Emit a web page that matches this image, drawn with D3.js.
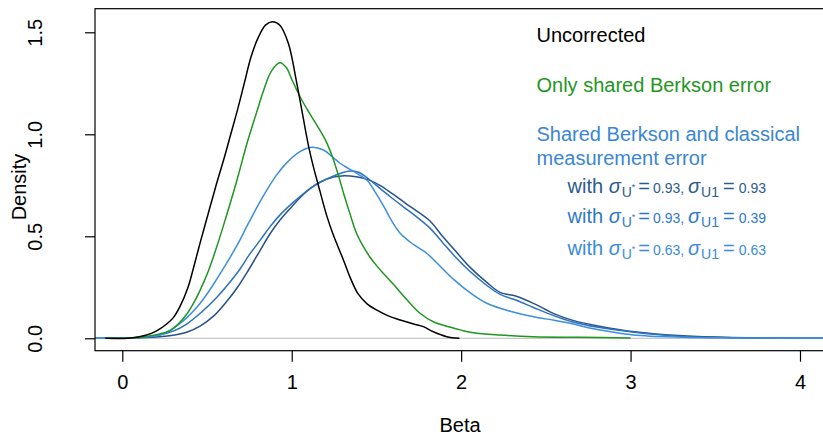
<!DOCTYPE html>
<html>
<head>
<meta charset="utf-8">
<script src="https://cdn.jsdelivr.net/npm/d3@7"></script>
<style>
  body { margin: 0; background: #fff; }
  text { font-family: "Liberation Sans", Arial, Helvetica, sans-serif; }
</style>
</head>
<body>
<div id="chart"></div>
<script>
// density estimates (beta, density)
var uncorrectedX = [-0.1, 0.05, 0.144, 0.2, 0.262, 0.30, 0.34, 0.388, 0.417, 0.46, 0.51, 0.557, 0.6, 0.64, 0.68, 0.72, 0.76, 0.8, 0.845, 0.886, 0.93, 0.98, 1.03, 1.068, 1.1, 1.128, 1.167, 1.207, 1.244, 1.305, 1.344, 1.39, 1.443, 1.5, 1.57, 1.64, 1.72, 1.777, 1.836, 1.915, 1.99];
var uncorrectedY = [0, 0.002, 0.016, 0.035, 0.07, 0.1, 0.155, 0.25, 0.335, 0.47, 0.62, 0.76, 0.88, 1.0, 1.12, 1.25, 1.38, 1.47, 1.535, 1.552, 1.535, 1.446, 1.25, 1.08, 0.94, 0.84, 0.72, 0.6, 0.51, 0.384, 0.30, 0.22, 0.17, 0.139, 0.11, 0.09, 0.07, 0.057, 0.032, 0.008, 0];

var berksonX = [-0.1, 0.1, 0.2, 0.282, 0.33, 0.38, 0.419, 0.459, 0.508, 0.55, 0.596, 0.675, 0.734, 0.79, 0.832, 0.88, 0.931, 0.97, 1.0, 1.049, 1.1, 1.148, 1.2, 1.24, 1.275, 1.31, 1.344, 1.38, 1.423, 1.46, 1.502, 1.55, 1.6, 1.679, 1.757, 1.836, 1.934, 2.0, 2.072, 2.23, 2.426, 2.7, 3.0];
var berksonY = [0, 0.004, 0.018, 0.038, 0.07, 0.118, 0.17, 0.235, 0.33, 0.43, 0.55, 0.77, 0.95, 1.1, 1.21, 1.31, 1.351, 1.325, 1.27, 1.184, 1.11, 1.045, 0.97, 0.89, 0.8, 0.7, 0.61, 0.52, 0.449, 0.40, 0.355, 0.31, 0.265, 0.19, 0.123, 0.081, 0.055, 0.04, 0.027, 0.016, 0.008, 0.005, 0.002];

// sigma U* = 0.63, sigma U1 = 0.63
var lightX = [-0.16, 0.0, 0.1, 0.223, 0.262, 0.32, 0.38, 0.44, 0.498, 0.55, 0.616, 0.68, 0.734, 0.8, 0.852, 0.91, 0.97, 1.049, 1.118, 1.187, 1.24, 1.285, 1.334, 1.40, 1.45, 1.49, 1.541, 1.58, 1.64, 1.718, 1.797, 1.856, 1.954, 2.05, 2.151, 2.3, 2.426, 2.55, 2.662, 2.75, 2.82, 3.017, 3.31, 3.6, 4.19];
var lightY = [0, 0.001, 0.004, 0.016, 0.03, 0.06, 0.1, 0.152, 0.215, 0.28, 0.368, 0.46, 0.547, 0.65, 0.725, 0.80, 0.86, 0.915, 0.936, 0.923, 0.89, 0.858, 0.833, 0.80, 0.77, 0.72, 0.65, 0.59, 0.515, 0.46, 0.417, 0.37, 0.29, 0.225, 0.172, 0.13, 0.106, 0.088, 0.07, 0.052, 0.041, 0.016, 0.005, 0.002, 0];

// sigma U* = 0.93, sigma U1 = 0.39
var midX = [-0.16, 0.1, 0.2, 0.3, 0.38, 0.47, 0.557, 0.62, 0.695, 0.75, 0.813, 0.87, 0.931, 1.0, 1.049, 1.11, 1.167, 1.23, 1.285, 1.344, 1.39, 1.44, 1.521, 1.58, 1.65, 1.73, 1.816, 1.89, 1.954, 2.05, 2.15, 2.23, 2.33, 2.43, 2.55, 2.66, 2.8, 3.02, 3.31, 3.6, 4.19];
var midY = [0, 0.003, 0.012, 0.035, 0.07, 0.13, 0.2, 0.26, 0.34, 0.41, 0.48, 0.545, 0.605, 0.66, 0.695, 0.735, 0.765, 0.79, 0.808, 0.82, 0.815, 0.79, 0.735, 0.695, 0.65, 0.6, 0.54, 0.47, 0.41, 0.33, 0.26, 0.215, 0.185, 0.15, 0.11, 0.08, 0.055, 0.03, 0.009, 0.003, 0];

// sigma U* = 0.93, sigma U1 = 0.93
var navyX = [-0.16, 0.2, 0.3, 0.38, 0.459, 0.54, 0.616, 0.68, 0.734, 0.813, 0.87, 0.931, 1.0, 1.05, 1.11, 1.167, 1.246, 1.31, 1.38, 1.45, 1.521, 1.6, 1.7, 1.816, 1.89, 1.954, 2.05, 2.15, 2.23, 2.33, 2.43, 2.55, 2.66, 2.8, 3.02, 3.31, 3.6, 4.19];
var navyY = [0, 0.006, 0.015, 0.03, 0.06, 0.11, 0.18, 0.25, 0.32, 0.43, 0.51, 0.58, 0.645, 0.69, 0.735, 0.765, 0.79, 0.797, 0.792, 0.778, 0.75, 0.705, 0.645, 0.575, 0.5, 0.44, 0.35, 0.275, 0.225, 0.205, 0.17, 0.12, 0.088, 0.062, 0.032, 0.012, 0.004, 0];

var xTicks = [0, 1, 2, 3, 4];
var yTicks = [0, 0.5, 1, 1.5];
var yTickLabels = ["0.0", "0.5", "1.0", "1.5"];

var W = 823, H = 435;
var box = { left: 95, top: 8.7, right: 832, bottom: 350.7 };

var svg = d3.select('#chart').append('svg')
    .attr('width', W)
    .attr('height', H);

var x = d3.scaleLinear().domain([0, 4]).range([122.3, 800]);
var y = d3.scaleLinear().domain([0, 1.5]).range([338.3, 32.3]);

svg.append('clipPath').attr('id', 'plotclip')
    .append('rect')
    .attr('x', box.left).attr('y', box.top)
    .attr('width', box.right - box.left).attr('height', box.bottom - box.top);

var plot = svg.append('g').attr('clip-path', 'url(#plotclip)');

// zero line
plot.append('line')
    .attr('x1', box.left).attr('x2', box.right)
    .attr('y1', y(0)).attr('y2', y(0))
    .attr('stroke', '#c8c8c8')
    .attr('stroke-width', 1.2);

var line = d3.line()
    .x(function (d) { return x(d[0]); })
    .y(function (d) { return y(Math.max(0, d[1])); })
    .curve(d3.curveCatmullRom.alpha(0.5));

var series = [
    { xs: navyX, ys: navyY, color: '#25538a' },
    { xs: midX, ys: midY, color: '#2d72bd' },
    { xs: lightX, ys: lightY, color: '#3d8fdc' },
    { xs: berksonX, ys: berksonY, color: '#1f961f' },
    { xs: uncorrectedX, ys: uncorrectedY, color: '#000000' }
];

series.forEach(function (s) {
    plot.append('path')
        .datum(d3.zip(s.xs, s.ys))
        .attr('fill', 'none')
        .attr('stroke', s.color)
        .attr('stroke-width', 1.5)
        .attr('stroke-linejoin', 'round')
        .attr('d', line);
});

// box
svg.append('rect')
    .attr('x', box.left).attr('y', box.top)
    .attr('width', box.right - box.left).attr('height', box.bottom - box.top)
    .attr('fill', 'none')
    .attr('stroke', '#000')
    .attr('stroke-width', 1.2);

// x axis
var xAxis = d3.axisBottom(x)
    .tickValues(xTicks)
    .tickSize(11)
    .tickFormat(d3.format('d'));

var gx = svg.append('g')
    .attr('transform', 'translate(0,' + box.bottom + ')')
    .call(xAxis);
gx.select('.domain').remove();
gx.selectAll('line').attr('stroke', '#000').attr('stroke-width', 1.2);
gx.selectAll('text')
    .attr('font-size', 20)
    .attr('fill', '#000')
    .attr('dy', null)
    .attr('y', 38.5);

// y axis, labels rotated like R
var yAxis = d3.axisLeft(y)
    .tickValues(yTicks)
    .tickSize(10)
    .tickFormat(function (d, i) { return yTickLabels[i]; });

var gy = svg.append('g')
    .attr('transform', 'translate(' + box.left + ',0)')
    .call(yAxis);
gy.select('.domain').remove();
gy.selectAll('line').attr('stroke', '#000').attr('stroke-width', 1.2);
gy.selectAll('text')
    .attr('font-size', 20)
    .attr('fill', '#000')
    .attr('x', null).attr('dy', null)
    .attr('text-anchor', 'middle')
    .attr('transform', 'translate(-53,0) rotate(-90)');

svg.append('text')
    .attr('x', 460).attr('y', 432)
    .attr('text-anchor', 'middle')
    .attr('font-size', 20)
    .text('Beta');

svg.append('text')
    .attr('transform', 'translate(26,187) rotate(-90)')
    .attr('text-anchor', 'middle')
    .attr('font-size', 20)
    .text('Density');

// legend
var legend = svg.append('g').attr('font-size', 20);
legend.append('text').attr('x', 536.5).attr('y', 42.3).attr('fill', '#000').text('Uncorrected');
legend.append('text').attr('x', 536.5).attr('y', 91.7).attr('fill', '#1f961f').text('Only shared Berkson error');
legend.append('text').attr('x', 536.5).attr('y', 141).attr('fill', '#3a86d0').text('Shared Berkson and classical');
legend.append('text').attr('x', 536.5).attr('y', 165).attr('fill', '#3a86d0').text('measurement error');

var sigmaRows = [
    { ustar: '0.93', u1: '0.93', color: '#2c5b8e', yy: 193.3 },
    { ustar: '0.93', u1: '0.39', color: '#2f7ac6', yy: 223.3 },
    { ustar: '0.63', u1: '0.63', color: '#3b8bd8', yy: 254.5 }
];

sigmaRows.forEach(function (r) {
    var t = legend.append('text')
        .attr('x', 567.5).attr('y', r.yy)
        .attr('fill', r.color);
    t.append('tspan').text('with ');
    t.append('tspan').attr('font-style', 'italic').text('σ');
    t.append('tspan').attr('font-size', 14).attr('dy', 4).attr('dx', 1).text('U');
    t.append('tspan').attr('font-size', 9).attr('dy', -7).text('*');
    t.append('tspan').attr('dy', 3).attr('dx', 3).text('=');
    t.append('tspan').attr('font-size', 14).attr('dx', 3).text(r.ustar + ', ');
    t.append('tspan').attr('font-style', 'italic').text('σ');
    t.append('tspan').attr('font-size', 14).attr('dy', 4).attr('dx', 1).text('U1');
    t.append('tspan').attr('dy', -4).attr('dx', 4).text('=');
    t.append('tspan').attr('font-size', 14).attr('dx', 4).text(r.u1);
});
</script>
</body>
</html>
